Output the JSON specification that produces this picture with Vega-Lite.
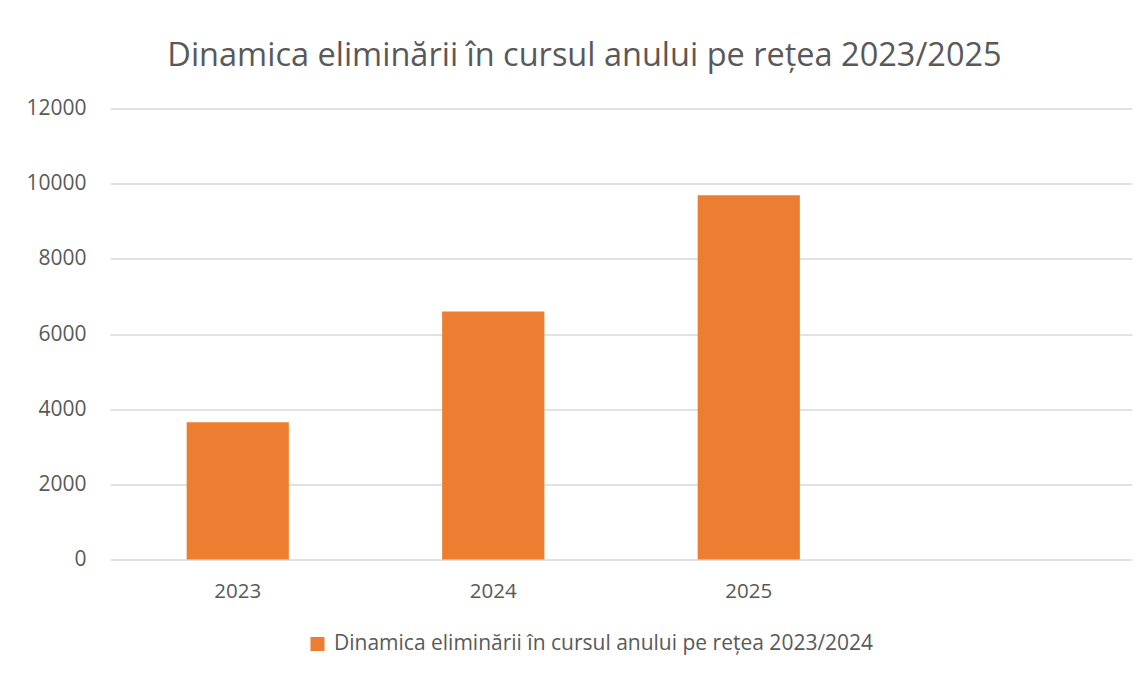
{
  "$schema": "https://vega.github.io/schema/vega-lite/v6.json",
  "autosize": {"type": "none"},
  "padding": {"left": 110, "top": 108.5, "right": 15, "bottom": 114.5},
  "width": 1022,
  "height": 451,
  "background": "white",
  "title": {
    "text": "Dinamica eliminării în cursul anului pe rețea 2023/2025",
    "font": "Open Sans",
    "fontSize": 32.5,
    "fontWeight": "normal",
    "color": "#595959",
    "anchor": "middle",
    "dx": -36.5,
    "offset": 25
  },
  "data": {
    "values": [
      {"year": "2023", "value": 3650, "series": "Dinamica eliminării în cursul anului pe rețea 2023/2024"},
      {"year": "2024", "value": 6600, "series": "Dinamica eliminării în cursul anului pe rețea 2023/2024"},
      {"year": "2025", "value": 9690, "series": "Dinamica eliminării în cursul anului pe rețea 2023/2024"}
    ]
  },
  "mark": {"type": "bar"},
  "encoding": {
    "x": {
      "field": "year",
      "type": "nominal",
      "title": null,
      "scale": {"domain": ["2023", "2024", "2025", " "], "paddingInner": 0.6, "paddingOuter": 0.3},
      "axis": {
        "labelAngle": 0,
        "ticks": false,
        "domain": false,
        "labelFont": "Open Sans",
        "labelFontSize": 20.5,
        "labelColor": "#595959",
        "labelPadding": 22
      }
    },
    "y": {
      "field": "value",
      "type": "quantitative",
      "title": null,
      "scale": {"domain": [0, 12000], "nice": false},
      "axis": {
        "values": [0, 2000, 4000, 6000, 8000, 10000, 12000],
        "format": "d",
        "ticks": false,
        "domain": false,
        "grid": true,
        "gridColor": "#D9D9D9",
        "gridWidth": 1.5,
        "labelFont": "Open Sans",
        "labelFontSize": 21,
        "labelColor": "#595959",
        "labelPadding": 24
      }
    },
    "color": {
      "field": "series",
      "type": "nominal",
      "scale": {"range": ["#ED7D31"]},
      "legend": {
        "title": null,
        "orient": "none",
        "legendX": 197,
        "legendY": 525,
        "symbolType": "square",
        "symbolSize": 196,
        "symbolStrokeWidth": 0,
        "labelFont": "Open Sans",
        "labelFontSize": 21,
        "labelLimit": 2000,
        "labelColor": "#595959",
        "labelOffset": 6
      }
    }
  },
  "config": {
    "view": {"stroke": null}
  }
}
